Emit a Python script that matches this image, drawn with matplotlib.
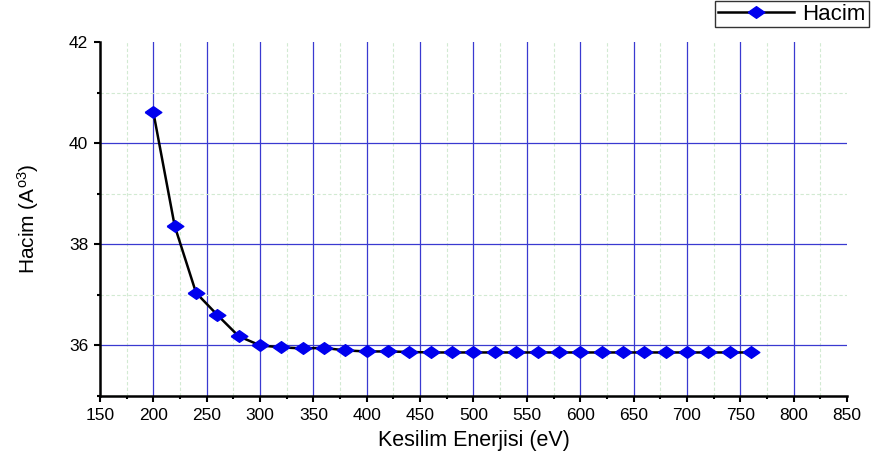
import matplotlib
matplotlib.use("Agg")
import matplotlib.pyplot as plt
from matplotlib.ticker import MultipleLocator
from matplotlib import font_manager
import numpy as np

energy = [200, 220, 240, 260, 280, 300, 320, 340, 360, 380, 400, 420, 440, 460, 480,
          500, 520, 540, 560, 580, 600, 620, 640, 660, 680, 700, 720, 740, 760]
volume = [40.61, 38.36, 37.04, 36.60, 36.18, 36.00, 35.96, 35.94, 35.95, 35.90, 35.88, 35.88,
          35.87, 35.86, 35.86, 35.86, 35.86, 35.86, 35.86, 35.86, 35.86, 35.86, 35.86,
          35.86, 35.86, 35.86, 35.86, 35.86, 35.86]
xticks = [150, 200, 250, 300, 350, 400, 450, 500, 550, 600, 650, 700, 750, 800, 850]
yticks = [36, 38, 40, 42]

plt.rcParams['font.family'] = ['Liberation Sans', 'DejaVu Sans']
plt.rcParams['mathtext.fontset'] = 'custom'
plt.rcParams['mathtext.rm'] = 'Liberation Sans'
plt.rcParams['mathtext.it'] = 'Liberation Sans'

names = {f.name for f in font_manager.fontManager.ttflist}
narrow = 'Liberation Sans Narrow' if 'Liberation Sans Narrow' in names else 'Liberation Sans'

fig = plt.figure(figsize=(8.72, 4.62), dpi=100)
ax = fig.add_axes([0.1147, 0.143, 0.8566, 0.766])

ax.set_xlim(150, 850)
ax.set_ylim(35, 42)
ax.set_xticks(xticks)
ax.set_yticks(yticks)
ax.xaxis.set_minor_locator(MultipleLocator(25))
ax.yaxis.set_minor_locator(MultipleLocator(1))

ax.grid(which='major', color='#3a3ad0', linewidth=0.9, zorder=0)
ax.grid(which='minor', color='#d2ead2', linewidth=0.8, linestyle=(0, (3, 2)), zorder=0)
ax.set_axisbelow(True)
fig.canvas.draw()
for gl, v in zip(ax.yaxis.get_gridlines(), yticks):
    if v == 42:
        gl.set_visible(False)
for gl, v in zip(ax.xaxis.get_gridlines(), xticks):
    if v in (150, 850):
        gl.set_visible(False)

diamond = [(-1, 0), (0, 0.7), (1, 0), (0, -0.7), (-1, 0)]
ax.plot(energy, volume, color='black', linewidth=1.8, marker=diamond, markersize=12,
        markerfacecolor='#0000ee', markeredgecolor='#0000ee', label='Hacim',
        zorder=3, clip_on=False)

for s in ['top', 'right']:
    ax.spines[s].set_visible(False)
for s in ['left', 'bottom']:
    ax.spines[s].set_linewidth(1.8)
ax.tick_params(which='major', direction='out', length=4.5, width=1.5, labelsize=12.5, pad=4)
ax.tick_params(which='minor', direction='out', length=2.5, width=1.5)

ax.set_xlabel('Kesilim Enerjisi (eV)', fontsize=15.5, labelpad=5)
ax.set_ylabel('Hacim (A$^{o3}$)', fontsize=15, labelpad=20, family=narrow)

leg = fig.legend(loc='upper right', bbox_to_anchor=(0.996, 0.998),
                 frameon=True, fancybox=False, edgecolor='black', handlelength=3.4,
                 borderpad=0.12, handletextpad=0.4, borderaxespad=0,
                 prop={'family': 'Liberation Sans', 'size': 16})
leg.get_frame().set_linewidth(1.0)

fig.savefig('out.png', dpi=100)
